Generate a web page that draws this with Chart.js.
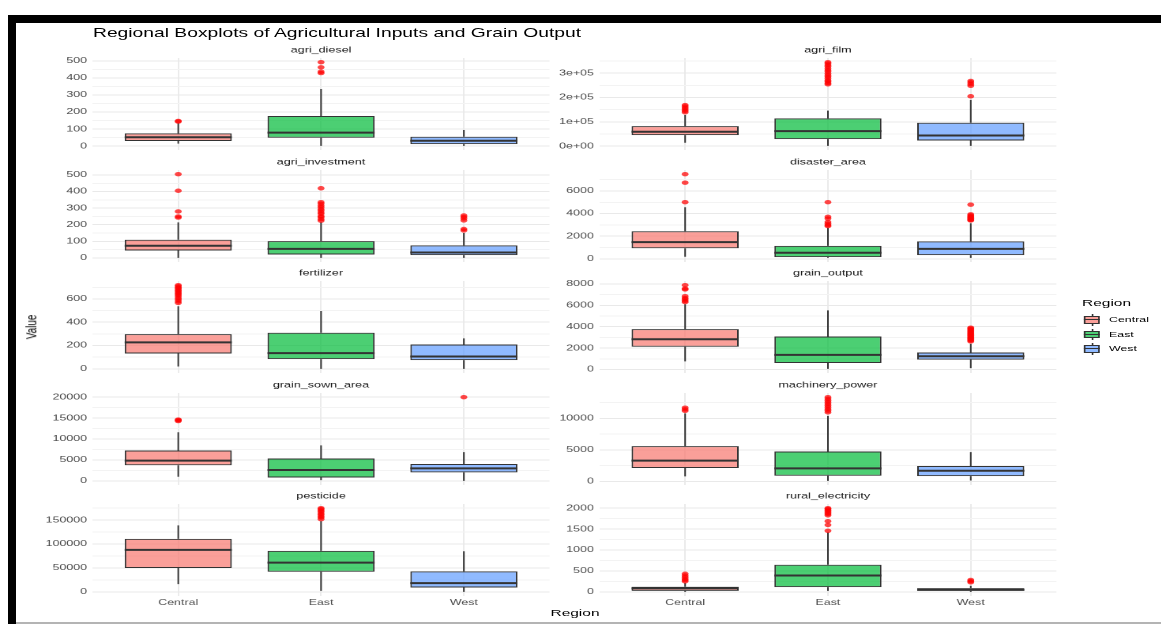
<!DOCTYPE html>
<html>
<head>
<meta charset="utf-8">
<script src="https://cdn.jsdelivr.net/npm/chart.js@4.4.1/dist/chart.umd.min.js"></script>
<style>
  html, body { margin: 0; padding: 0; background: #fff; }
  body { width: 1161px; height: 624px; position: relative; overflow: hidden; }
  #stage { position: absolute; left: 0; top: 0; height: 624px; transform-origin: 0 0; }
  .txt { position: absolute; white-space: nowrap; font-family: "Liberation Sans", Arial, Helvetica, sans-serif; }
  .bar { position: absolute; background: #000; }
</style>
</head>
<body>
<div id="stage"></div>
<div class="bar" style="left:8px;top:15px;width:1153px;height:8px;"></div>
<div class="bar" style="left:8px;top:15px;width:8px;height:609px;"></div>
<div class="bar" style="left:16px;top:622px;width:1145px;height:2px;background:#b4b4b4;"></div>
<script>
// ---------------- DATA ----------------
const categories = ['Central', 'East', 'West'];
const panelNames = ['agri_diesel', 'agri_film', 'agri_investment', 'disaster_area', 'fertilizer',
                    'grain_output', 'grain_sown_area', 'machinery_power', 'pesticide', 'rural_electricity'];

// each row: [lower whisker, Q1, median, Q3, upper whisker] for Central, East, West
const agriDieselStats = [[15, 30, 52, 75, 135], [2, 49, 79, 177, 335], [2, 12, 32, 55, 95]];
const agriDieselOut = [[144, 148], [428, 436, 462, 492], []];
const agriDieselTicks = [0, 100, 200, 300, 400, 500];

const agriFilmStats = [[13800, 45400, 59100, 82500, 128000], [1400, 28900, 61900, 114000, 146000], [1400, 23400, 44000, 96300, 190000]];
const agriFilmOut = [[139000, 145000, 151000, 157000, 163000, 169000],
                     [254000, 259000, 266000, 270000, 278000, 285000, 291000, 298000, 306000, 312000, 319000, 327000, 333000, 340000, 345000],
                     [205000, 248000, 255000, 262000, 268000]];
const agriFilmTicks = [0, 100000, 200000, 300000];
const agriFilmTickLabels = ['0e+00', '1e+05', '2e+05', '3e+05'];

const agriInvestmentStats = [[0, 44, 73, 109, 214], [0, 20, 54, 101, 215], [0, 16, 32, 75, 150]];
const agriInvestmentOut = [[243, 250, 280, 405, 505],
                           [224, 233, 245, 252, 266, 274, 285, 294, 306, 315, 327, 336, 420],
                           [165, 174, 226, 238, 247, 256]];
const agriInvestmentTicks = [0, 100, 200, 300, 400, 500];

const disasterAreaStats = [[181, 935, 1478, 2443, 4555], [90, 151, 543, 1146, 2750], [90, 332, 875, 1538, 3150]];
const disasterAreaOut = [[5008, 6727, 7481], [2896, 2986, 3107, 3258, 3560, 3710, 5008],
                         [3390, 3440, 3520, 3600, 3680, 3750, 3840, 3930, 4790]];
const disasterAreaTicks = [0, 2000, 4000, 6000];

const fertilizerStats = [[20, 132, 227, 298, 537], [0, 83, 135, 310, 496], [0, 75, 106, 209, 261]];
const fertilizerOut = [[566, 579, 593, 606, 621, 634, 645, 655, 667, 676, 688, 697, 708, 718], [], []];
const fertilizerTicks = [0, 200, 400, 600];

const grainOutputStats = [[762, 2127, 2825, 3778, 6100], [63, 603, 1365, 3079, 5524], [127, 921, 1238, 1587, 2400]];
const grainOutputOut = [[6300, 6420, 6560, 6680, 6850, 7480, 7560, 7880], [],
                        [2620, 2710, 2790, 2880, 2950, 3040, 3130, 3210, 3300, 3380, 3470, 3560, 3650, 3740, 3830, 3910]];
const grainOutputTicks = [0, 2000, 4000, 6000, 8000];

const grainSownAreaStats = [[968, 3710, 4839, 7258, 11613], [161, 806, 2581, 5323, 8468], [0, 2016, 2984, 4032, 6855]];
const grainSownAreaOut = [[14300, 14500, 14650], [], [20000]];
const grainSownAreaTicks = [0, 5000, 10000, 15000, 20000];

const machineryPowerStats = [[802, 2139, 3316, 5615, 10800], [107, 909, 2086, 4759, 10400], [160, 856, 1711, 2460, 4652]];
const machineryPowerOut = [[11200, 11450, 11700],
                           [10960, 11230, 11480, 11770, 12030, 12290, 12560, 12830, 13100, 13370], []];
const machineryPowerTicks = [0, 5000, 10000];

const pesticideStats = [[16100, 49800, 87700, 110800, 138900], [2100, 42100, 61000, 85600, 148000], [0, 9100, 18200, 42800, 84800]];
const pesticideOut = [[], [152000, 155500, 158000, 161500, 164000, 167500, 170000, 173000, 175000], []];
const pesticideTicks = [0, 50000, 100000, 150000];

const ruralElectricityStats = [[0, 24, 81, 121, 215], [24, 113, 389, 648, 1420], [0, 24, 49, 89, 146]];
const ruralElectricityOut = [[250, 282, 310, 352, 390, 432],
                             [1460, 1600, 1690, 1830, 1862, 1890, 1925, 1950, 1980, 2000], [227, 255, 283]];
const ruralElectricityTicks = [0, 500, 1000, 1500, 2000];

const panels = [
  { stats: agriDieselStats, out: agriDieselOut, ticks: agriDieselTicks },
  { stats: agriFilmStats, out: agriFilmOut, ticks: agriFilmTicks, labels: agriFilmTickLabels },
  { stats: agriInvestmentStats, out: agriInvestmentOut, ticks: agriInvestmentTicks },
  { stats: disasterAreaStats, out: disasterAreaOut, ticks: disasterAreaTicks },
  { stats: fertilizerStats, out: fertilizerOut, ticks: fertilizerTicks },
  { stats: grainOutputStats, out: grainOutputOut, ticks: grainOutputTicks },
  { stats: grainSownAreaStats, out: grainSownAreaOut, ticks: grainSownAreaTicks },
  { stats: machineryPowerStats, out: machineryPowerOut, ticks: machineryPowerTicks },
  { stats: pesticideStats, out: pesticideOut, ticks: pesticideTicks },
  { stats: ruralElectricityStats, out: ruralElectricityOut, ticks: ruralElectricityTicks }
];

// ---------------- STYLE / LAYOUT ----------------
const S = 1.58;                       // horizontal stretch of the picture
const px = x => x / S;                // picture x -> stage x
const FONT = '"Liberation Sans", Arial, Helvetica, sans-serif';
const FILLS = ['rgba(248,118,109,0.7)', 'rgba(0,186,56,0.7)', 'rgba(97,156,255,0.7)'];
const KEY_FILLS = ['#FA9F99', '#4DCF74', '#90BAFF'];
const BOX_W = 0.75;
const COL_PLOT_LEFT = [92, 600];
const CANVAS_LEFT = [20, 552];
const PLOT_W = 457;
const ROW_PLOT_TOP = [58, 170, 281, 393, 504];
const PLOT_H = 92;
const STRIP_H = 16;
const BOTTOM_PAD = 9;
const XAXIS_H = 16;
const TICK_F = 7.85, STRIP_F = 7.95;

const stage = document.getElementById('stage');
stage.style.width = (1161 / S) + 'px';
stage.style.transform = 'scaleX(' + S + ')';

Chart.defaults.font.family = FONT;

function buildPanel(p, idx) {
  const col = idx % 2, row = Math.floor(idx / 2);
  const isBottom = row === ROW_PLOT_TOP.length - 1;
  const plotLeft = px(COL_PLOT_LEFT[col]);
  const canvasLeft = px(CANVAS_LEFT[col]);
  const axisW = plotLeft - canvasLeft;
  const plotW = px(PLOT_W);
  const cw = Math.ceil(axisW + plotW);
  const padRight = cw - axisW - plotW;
  const bottom = isBottom ? XAXIS_H : BOTTOM_PAD;
  const ch = STRIP_H + PLOT_H + bottom;

  const wrap = document.createElement('div');
  wrap.style.cssText = 'position:absolute;left:' + canvasLeft + 'px;top:' + (ROW_PLOT_TOP[row] - STRIP_H) +
                       'px;width:' + cw + 'px;height:' + ch + 'px;';
  const cv = document.createElement('canvas');
  cv.width = cw; cv.height = ch;
  wrap.appendChild(cv);
  stage.appendChild(wrap);

  const all = p.stats.flat().concat(p.out.flat());
  const dMin = Math.min(...all), dMax = Math.max(...all);
  const ex = (dMax - dMin) * 0.05;
  const yMin = dMin - ex, yMax = dMax + ex;

  const step = p.ticks[1] - p.ticks[0];
  const cand = p.ticks.map((v, i) => ({ value: v, txt: p.labels ? p.labels[i] : String(v), minor: false }));
  for (let i = -1; i < p.ticks.length; i++) {
    cand.push({ value: p.ticks[0] + step * (i + 0.5), txt: '', minor: true });
  }
  const yTicks = cand.filter(t => t.value >= yMin && t.value <= yMax).sort((a, b) => a.value - b.value);

  const xs = categories.map((c, i) => i + 1);
  const whisk = [], med = [], boxes = [], outs = [];
  p.stats.forEach((s, i) => {
    const [lo, q1, m, q3, hi] = s;
    const x = xs[i];
    whisk.push({ x, y: q3 }, { x, y: hi }, { x, y: null }, { x, y: lo }, { x, y: q1 }, { x, y: null });
    med.push({ x: x - BOX_W / 2, y: m }, { x: x + BOX_W / 2, y: m }, { x: x + BOX_W / 2, y: null });
    boxes.push({ x, y: [q1, q3] });
    p.out[i].forEach(v => outs.push({ x, y: v }));
  });

  new Chart(cv, {
    type: 'scatter',
    data: {
      datasets: [
        { type: 'line', data: whisk, borderColor: '#333333', borderWidth: 1, pointRadius: 0, pointHoverRadius: 0,
          spanGaps: false, tension: 0, order: 4 },
        { type: 'bar', data: boxes, backgroundColor: FILLS, borderColor: '#333333', borderWidth: 1,
          borderSkipped: false, barPercentage: BOX_W, categoryPercentage: 1, order: 3 },
        { type: 'line', data: med, borderColor: '#333333', borderWidth: 2, pointRadius: 0, pointHoverRadius: 0,
          spanGaps: false, tension: 0, order: 2 },
        { type: 'scatter', data: outs, backgroundColor: 'rgba(255,0,0,0.72)', borderWidth: 0, pointRadius: 2.2,
          pointHoverRadius: 2.2, order: 1 }
      ]
    },
    options: {
      responsive: false,
      animation: false,
      devicePixelRatio: 2,
      events: [],
      layout: { autoPadding: false, padding: { left: 0, right: padRight, top: 0, bottom: isBottom ? 0 : BOTTOM_PAD } },
      plugins: {
        legend: { display: false },
        tooltip: { enabled: false },
        title: { display: true, text: panelNames[idx], fullSize: false, color: '#1a1a1a',
                 font: { size: STRIP_F, weight: 'normal' }, padding: { top: 3.73, bottom: 2.73 } }
      },
      scales: {
        x: {
          type: 'linear', min: 0.4, max: 3.6, bounds: 'data', offset: false,
          grid: { color: '#ebebeb', lineWidth: 1, drawTicks: false, offset: false },
          border: { display: false },
          ticks: { display: isBottom, padding: 2.2, color: '#4d4d4d', font: { size: TICK_F }, autoSkip: false, maxRotation: 0,
                   callback: v => categories[Math.round(v) - 1] || '' },
          afterBuildTicks: s => { s.ticks = xs.map(v => ({ value: v })); },
          afterFit: s => { s.height = isBottom ? XAXIS_H : 0; }
        },
        y: {
          type: 'linear', min: yMin, max: yMax, bounds: 'data',
          grid: { color: c => (c.tick && c.tick.minor) ? '#f3f3f3' : '#e9e9e9', lineWidth: 1, drawTicks: false },
          border: { display: false },
          ticks: { padding: 3.5, color: '#4d4d4d', font: { size: TICK_F }, autoSkip: false,
                   callback: (v, i, t) => (t[i] && t[i].txt) || '' },
          afterBuildTicks: s => { s.ticks = yTicks.map(t => Object.assign({}, t)); },
          afterFit: s => { s.width = axisW; }
        }
      }
    }
  });
}
panels.forEach(buildPanel);

// ---------------- TEXT ----------------
function addText(text, xF, yC, size, opts) {
  opts = opts || {};
  const d = document.createElement('div');
  d.className = 'txt';
  d.textContent = text;
  const lh = size * 1.2;
  d.style.fontSize = size + 'px';
  d.style.lineHeight = lh + 'px';
  d.style.color = opts.color || '#000';
  d.style.left = px(xF) + 'px';
  d.style.top = (yC - lh / 2) + 'px';
  if (opts.center) d.style.transform = 'translateX(-50%)';
  if (opts.rotate) { d.style.top = yC + 'px'; d.style.transform = 'translate(-50%,-50%) rotate(-90deg)'; }
  stage.appendChild(d);
  return d;
}
addText('Regional Boxplots of Agricultural Inputs and Grain Output', 93, 33, 12.2);
addText('Region', 575, 613, 9.8, { center: true });
addText('Value', 31, 327, 9.8, { rotate: true });

// legend
const LEG_X = 1082, KEY_W = 20, KEY_H = 14.4, LEG_Y = [320, 334.5, 349];
addText('Region', 1082, 303, 9.8);
categories.forEach((c, i) => {
  const k = document.createElement('div');
  const kw = px(KEY_W);
  k.style.cssText = 'position:absolute;left:' + px(LEG_X) + 'px;top:' + (LEG_Y[i] - KEY_H / 2) + 'px;width:' + kw + 'px;height:' + KEY_H + 'px;';
  k.innerHTML =
    '<div style="position:absolute;left:' + (kw / 2 - 0.5) + 'px;top:' + (0.1 * KEY_H) + 'px;width:1px;height:' + (0.8 * KEY_H) + 'px;background:#333"></div>' +
    '<div style="position:absolute;box-sizing:border-box;left:' + (0.125 * kw) + 'px;top:' + (0.25 * KEY_H) + 'px;width:' + (0.75 * kw) + 'px;height:' + (0.5 * KEY_H) + 'px;background:' + KEY_FILLS[i] + ';border:1px solid #333"></div>' +
    '<div style="position:absolute;left:' + (0.125 * kw) + 'px;top:' + (0.5 * KEY_H - 0.5) + 'px;width:' + (0.75 * kw) + 'px;height:1px;background:#333"></div>';
  stage.appendChild(k);
  addText(c, 1109, LEG_Y[i], 7.85);
});
</script>
</body>
</html>
